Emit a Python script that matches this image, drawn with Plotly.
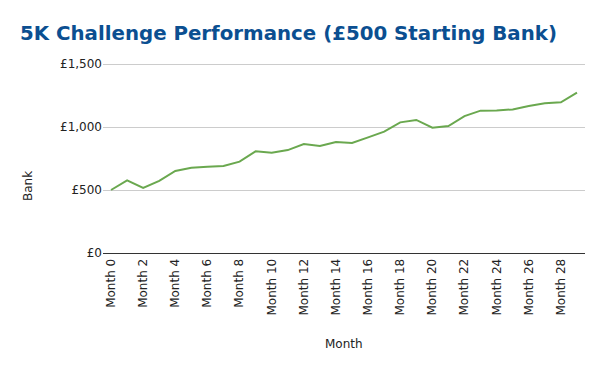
import plotly.graph_objects as go

months = [f"Month {i}" for i in range(30)]
bank = [500, 576, 516, 572, 651, 677, 685, 690, 725, 807, 796, 817, 865, 849, 881,
        873, 918, 963, 1037, 1056, 995, 1008, 1087, 1130, 1132, 1140, 1167, 1188, 1196, 1273]
y_ticks = [0, 500, 1000, 1500]
y_tick_labels = ["£0", "£500", "£1,000", "£1,500"]

fig = go.Figure()
fig.add_trace(go.Scatter(x=months, y=bank, mode="lines",
                         line=dict(color="#6aa84f", width=2), hoverinfo="x+y"))

fig.update_layout(
    width=600, height=371,
    margin=dict(l=103, r=15, t=59, b=118, autoexpand=False),
    paper_bgcolor="white", plot_bgcolor="white",
    font=dict(family="DejaVu Sans, Verdana, sans-serif", size=12, color="#222222"),
    title=dict(text="<b>5K Challenge Performance (£500 Starting Bank)</b>",
               x=20/600, xanchor="left", y=1-33/371, yanchor="middle",
               font=dict(size=19.8, color="#0b4f91", family="DejaVu Sans, Verdana, sans-serif")),
    showlegend=False,
    xaxis=dict(type="category", tickmode="array", tickvals=months[::2], ticktext=months[::2],
               tickangle=-90, showgrid=False, showline=True, linecolor="#333333", linewidth=1,
               ticks="", range=[-0.5, 29.5], automargin=False),
    yaxis=dict(range=[0, 1540], tickvals=y_ticks, ticktext=y_tick_labels,
               showgrid=True, gridcolor="#cccccc", gridwidth=1, zeroline=False,
               showline=False, ticks="", automargin=False),
    annotations=[
        dict(text="Month", xref="paper", yref="paper", x=0.5, y=-(344-253)/194,
             xanchor="center", yanchor="middle", showarrow=False, font=dict(size=12)),
        dict(text="Bank", xref="paper", yref="paper", x=-(103-28)/482, y=(253-186)/194,
             xanchor="center", yanchor="middle", showarrow=False, textangle=-90,
             font=dict(size=12)),
    ],
)

fig.write_html("out.html", config={"displayModeBar": False},
               post_script="document.body.style.margin='0';")
